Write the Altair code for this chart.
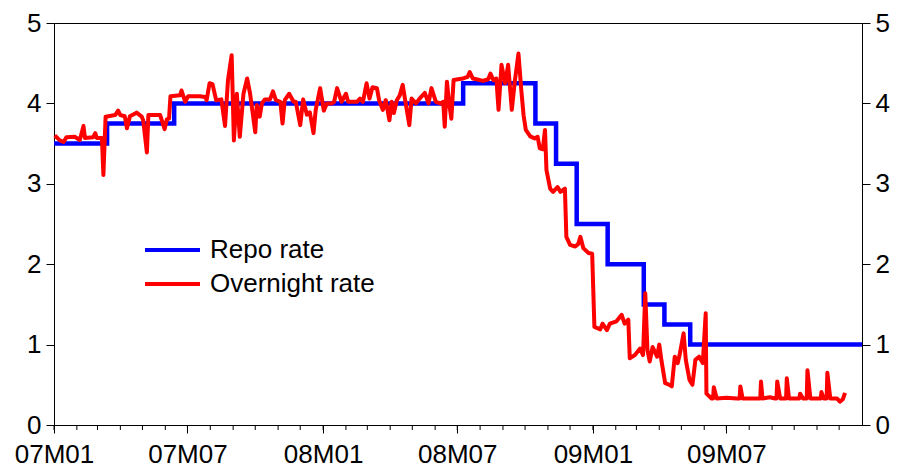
import altair as alt
import pandas as pd

# ---------------- data ----------------
series_names = ["Repo rate", "Overnight rate"]
series_colors = ["#0000ff", "#ff0000"]

repo_dates = [
    "2007-01-01", "2007-03-14", "2007-06-13", "2008-07-09", "2008-10-15",
    "2008-11-12", "2008-12-10", "2009-01-21", "2009-03-11", "2009-04-08",
    "2009-05-13", "2010-01-01",
]
repo_values = [3.50, 3.75, 4.00, 4.25, 3.75, 3.25, 2.50, 2.00, 1.50, 1.25, 1.00, 1.00]

overnight_dates = [
    "2007-01-02", "2007-01-09", "2007-01-14", "2007-01-18", "2007-01-29", "2007-02-05",
    "2007-02-10", "2007-02-12", "2007-02-23", "2007-02-26", "2007-02-28", "2007-03-07",
    "2007-03-09", "2007-03-12", "2007-03-25", "2007-03-29", "2007-04-01", "2007-04-07",
    "2007-04-10", "2007-04-14", "2007-04-23", "2007-04-30", "2007-05-02", "2007-05-07",
    "2007-05-09", "2007-05-25", "2007-05-31", "2007-06-03", "2007-06-06", "2007-06-08",
    "2007-06-21", "2007-06-23", "2007-06-28", "2007-07-02", "2007-07-18", "2007-07-25",
    "2007-07-27", "2007-07-31", "2007-08-04", "2007-08-09", "2007-08-16", "2007-08-21",
    "2007-08-25", "2007-08-30", "2007-09-02", "2007-09-06", "2007-09-10", "2007-09-15",
    "2007-09-20", "2007-09-24", "2007-10-01", "2007-10-03", "2007-10-07", "2007-10-10",
    "2007-10-14", "2007-10-21", "2007-10-25", "2007-10-29", "2007-11-04", "2007-11-07",
    "2007-11-10", "2007-11-16", "2007-11-22", "2007-11-25", "2007-12-01", "2007-12-05",
    "2007-12-10", "2007-12-14", "2007-12-19", "2007-12-22", "2007-12-28", "2008-01-02",
    "2008-01-06", "2008-01-13", "2008-01-16", "2008-01-20", "2008-01-26", "2008-02-01",
    "2008-02-04", "2008-02-16", "2008-02-20", "2008-02-24", "2008-02-29", "2008-03-04",
    "2008-03-08", "2008-03-14", "2008-03-17", "2008-03-22", "2008-03-26", "2008-03-31",
    "2008-04-03", "2008-04-06", "2008-04-10", "2008-04-14", "2008-04-18", "2008-04-21",
    "2008-04-27", "2008-04-30", "2008-05-06", "2008-05-11", "2008-05-18", "2008-05-23",
    "2008-05-27", "2008-06-02", "2008-06-08", "2008-06-12", "2008-06-14", "2008-06-17",
    "2008-06-20", "2008-06-23", "2008-06-26", "2008-07-02", "2008-07-09", "2008-07-15",
    "2008-07-18", "2008-07-22", "2008-07-27", "2008-08-05", "2008-08-12", "2008-08-15",
    "2008-08-19", "2008-08-23", "2008-08-26", "2008-08-30", "2008-09-04", "2008-09-08",
    "2008-09-13", "2008-09-17", "2008-09-22", "2008-09-26", "2008-09-29", "2008-10-02",
    "2008-10-08", "2008-10-14", "2008-10-18", "2008-10-21", "2008-10-25", "2008-10-28",
    "2008-10-30", "2008-11-04", "2008-11-08", "2008-11-14", "2008-11-18", "2008-11-24",
    "2008-11-26", "2008-12-01", "2008-12-08", "2008-12-12", "2008-12-15", "2008-12-19",
    "2008-12-26", "2008-12-31", "2009-01-03", "2009-01-11", "2009-01-14", "2009-01-20",
    "2009-01-24", "2009-02-02", "2009-02-09", "2009-02-13", "2009-02-18", "2009-02-20",
    "2009-02-27", "2009-03-06", "2009-03-10", "2009-03-13", "2009-03-16", "2009-03-19",
    "2009-03-23", "2009-03-29", "2009-04-01", "2009-04-04", "2009-04-09", "2009-04-15",
    "2009-04-18", "2009-04-22", "2009-04-26", "2009-04-29", "2009-05-04", "2009-05-07",
    "2009-05-12", "2009-05-16", "2009-05-20", "2009-05-25", "2009-05-30", "2009-06-03",
    "2009-06-04", "2009-06-11", "2009-06-13", "2009-06-14", "2009-06-18", "2009-07-01",
    "2009-07-15", "2009-07-19", "2009-07-20", "2009-07-23", "2009-08-07", "2009-08-16",
    "2009-08-17", "2009-08-19", "2009-08-29", "2009-09-05", "2009-09-07", "2009-09-08",
    "2009-09-12", "2009-09-20", "2009-09-21", "2009-09-24", "2009-10-08", "2009-10-09",
    "2009-10-13", "2009-10-18", "2009-10-19", "2009-10-23", "2009-11-06", "2009-11-07",
    "2009-11-10", "2009-11-14", "2009-11-15", "2009-11-19", "2009-11-28", "2009-12-02",
    "2009-12-06", "2009-12-09",
]
overnight_values = [
    3.60, 3.54, 3.52, 3.58, 3.585, 3.545,
    3.72, 3.57, 3.58, 3.63, 3.57, 3.57,
    3.11, 3.835, 3.855, 3.91, 3.855, 3.84,
    3.69, 3.84, 3.885, 3.835, 3.79, 3.39,
    3.855, 3.855, 3.68, 3.80, 3.81, 4.09,
    4.10, 4.16, 4.02, 4.09, 4.09, 4.08,
    4.04, 4.25, 4.24, 4.04, 4.05, 3.72,
    4.29, 4.60, 3.54, 4.12, 3.585, 4.12,
    4.31, 4.12, 3.64, 3.98, 3.835, 4.00,
    4.05, 4.05, 4.15, 4.04, 4.02, 3.75,
    4.04, 4.12, 4.02, 4.02, 3.73, 4.05,
    3.86, 3.89, 3.63, 3.92, 4.19, 3.91,
    4.00, 4.00, 4.02, 4.19, 4.02, 4.12,
    4.02, 4.02, 4.06, 4.02, 4.25, 4.06,
    4.20, 4.19, 4.04, 3.92, 4.04, 3.79,
    4.02, 3.88, 4.04, 4.10, 4.23, 4.06,
    3.73, 4.06, 4.00, 4.06, 4.13, 4.00,
    4.19, 4.02, 4.00, 4.02, 3.71, 4.27,
    4.00, 3.81, 4.29, 4.30, 4.31, 4.33,
    4.39, 4.31, 4.30, 4.28, 4.30, 4.37,
    4.29, 4.31, 3.92, 4.48, 4.25, 4.48,
    3.92, 4.27, 4.62, 4.15, 3.85, 3.67,
    3.59, 3.565, 3.585, 3.44, 3.43, 3.67,
    3.17, 2.94, 2.90, 2.96, 2.90, 2.94,
    2.34, 2.24, 2.22, 2.25, 2.34, 2.20,
    2.14, 2.13, 1.22, 1.19, 1.26, 1.18,
    1.26, 1.29, 1.37, 1.26, 1.31, 0.83,
    0.87, 0.95, 0.87, 1.64, 0.93, 0.79,
    0.97, 0.85, 1.00, 0.80, 0.52, 0.50,
    0.48, 0.85, 0.77, 0.89, 1.14, 0.81,
    0.56, 0.50, 0.81, 0.85, 0.77, 1.39,
    0.39, 0.33, 0.33, 0.47, 0.33, 0.34,
    0.33, 0.33, 0.48, 0.33, 0.33, 0.33,
    0.54, 0.33, 0.345, 0.33, 0.33, 0.54,
    0.33, 0.33, 0.58, 0.33, 0.33, 0.39,
    0.33, 0.33, 0.68, 0.33, 0.33, 0.41,
    0.33, 0.33, 0.65, 0.33, 0.33, 0.29,
    0.32, 0.40,
]

x_tick_dates = [(2007, 1), (2007, 7), (2008, 1), (2008, 7), (2009, 1), (2009, 7)]
y_ticks = [0, 1, 2, 3, 4, 5]
minor_tick_months = pd.date_range("2007-01-01", "2009-12-01", freq="MS").strftime("%Y-%m-%d").tolist()

# ---------------- tables ----------------
repo_df = pd.DataFrame({"date": repo_dates, "rate": repo_values, "series": series_names[0]})
on_df = pd.DataFrame({"date": overnight_dates, "rate": overnight_values, "series": series_names[1]})
minor_df = pd.DataFrame({"date": minor_tick_months})

W, H = 808, 402
FONT = "Liberation Sans"
TICK_FS = 26
LEGEND_FS = 26

x_scale = alt.Scale(
    type="utc",
    domain=[alt.DateTime(year=2007, month=1, date=1, utc=True),
            alt.DateTime(year=2010, month=1, date=1, utc=True)],
    nice=False,
)
x_axis = alt.Axis(
    values=[alt.DateTime(year=y, month=m, date=1, utc=True) for y, m in x_tick_dates],
    format="%yM%m", title=None, grid=False, tickSize=8, labelPadding=8,
    labelFontSize=TICK_FS, labelFont=FONT, labelColor="black",
    domainColor="black", tickColor="black", labelFlush=False,
)
y_scale = alt.Scale(domain=[0, 5], nice=False, zero=True)

def y_axis(orient):
    return alt.Axis(
        orient=orient, values=y_ticks, format="d", title=None, grid=False,
        tickSize=8, labelPadding=5, labelFontSize=TICK_FS, labelFont=FONT,
        labelColor="black", domainColor="black", tickColor="black",
    )

color = alt.Color(
    "series:N",
    scale=alt.Scale(domain=series_names, range=series_colors),
    legend=alt.Legend(
        title=None, orient="none", legendX=89, legendY=214,
        symbolType="stroke", symbolSize=3025, symbolStrokeWidth=4,
        labelFontSize=LEGEND_FS, labelFont=FONT, labelColor="black",
        labelLimit=400, clipHeight=26, rowPadding=8, labelOffset=8, padding=0,
    ),
)

repo = alt.Chart(repo_df).mark_line(interpolate="step-after", strokeWidth=4.5).encode(
    x=alt.X("date:T", scale=x_scale, axis=x_axis),
    y=alt.Y("rate:Q", scale=y_scale, axis=y_axis("left")),
    color=color,
)
overnight = alt.Chart(on_df).mark_line(strokeWidth=4, strokeJoin="round").encode(
    x=alt.X("date:T", scale=x_scale, axis=x_axis),
    y=alt.Y("rate:Q", scale=y_scale, axis=y_axis("right")),
    color=color,
)
minor = alt.Chart(minor_df).mark_rule(color="black", strokeWidth=1, clip=False).encode(
    x=alt.X("date:T", scale=x_scale, axis=x_axis),
    y=alt.value(H),
    y2=alt.value(H + 5),
)

chart = (
    alt.layer(repo, overnight, minor)
    .resolve_scale(y="independent")
    .properties(
        width=W, height=H,
        autosize=alt.AutoSizeParams(type="none"),
        padding={"left": 46, "top": 15, "right": 28, "bottom": 42},
        background="white",
    )
    .configure_view(stroke="black", strokeWidth=1)
)

chart.save("out.html", embed_options={"renderer": "svg", "actions": False})
